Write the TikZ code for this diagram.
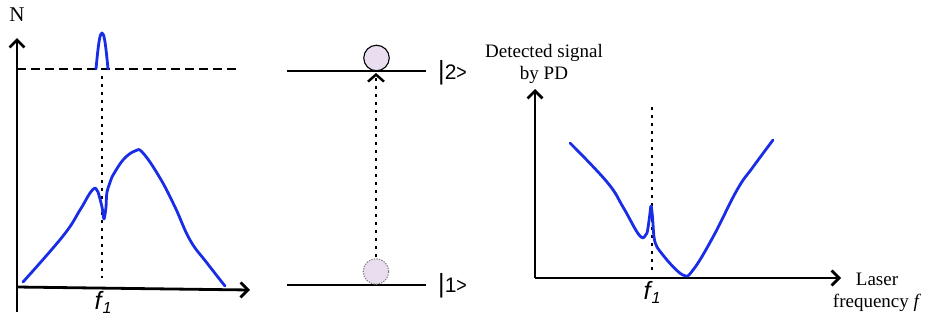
\documentclass[tikz,border=0pt]{standalone}
\usepackage{fontspec}
\setmainfont{Liberation Serif}
\newfontfamily\arialf{Liberation Sans}
\usetikzlibrary{arrows.meta}
\definecolor{curveblue}{RGB}{25,45,230}
\definecolor{lav}{RGB}{232,222,240}
\begin{document}
\begin{tikzpicture}[x=1pt,y=-1pt,
  axisline/.style={line width=2.8pt,-{Straight Barb[length=7.5pt,width=15pt]}},
  bluecurve/.style={curveblue,line width=2.8pt,line cap=round,line join=round},
  dotline/.style={line width=2.8pt,dash pattern=on 2.8pt off 5.2pt},
  level/.style={line width=2.5pt},
  serifl/.style={font=\fontsize{19}{22}\selectfont,align=center,inner sep=0pt},
  sansl/.style={font=\arialf\fontsize{21}{24}\selectfont,inner sep=0pt},
  flab/.style={font=\arialf\itshape\fontsize{25}{28}\selectfont,inner sep=0pt},
  atom/.style={circle,minimum size=25.5pt,inner sep=0pt,fill=lav}]
\useasboundingbox (0,0) rectangle (936,322);

% ---------- left panel ----------
\coordinate (ly0) at (17,312);
\coordinate (lyt) at (17,38);
\coordinate (lx0) at (17,287);
\coordinate (lxt) at (250,290);
\draw[axisline] (ly0) -- (lyt);
\draw[axisline] (lx0) -- (lxt);
\node[serifl,font=\fontsize{21}{24}\selectfont] (N) at (17,15) {N};
\coordinate (dl) at (17,69);
\coordinate (dr) at (240,69);
\draw[line width=2.6pt,dash pattern=on 9pt off 5pt] (dl) -- (dr);
\coordinate (ldt) at (102,76);
\coordinate (ldb) at (102,278);
\draw[dotline] (ldt) -- (ldb);
\draw[bluecurve] (96,69) .. controls (98.5,42) and (100,33) .. (102,33)
  .. controls (104,33) and (105.5,42) .. (108,69);
\draw[bluecurve] plot[smooth,tension=0.7] coordinates {
  (23,282) (63,236) (80,210) (90,193) (95,188)}
  plot[smooth,tension=0.5] coordinates {(95,188) (98,192) (102,207) (104,219)
  (106,207) (107,192) (112,177)}
  plot[smooth,tension=0.7] coordinates {(112,177) (123,160) (135,151) (143,153) (160,178)
  (175,207) (190,240) (207,263) (225,286)};
\node[flab] (f1l) at (103,302) {f\kern1pt\raisebox{-4pt}{\fontsize{16}{18}\selectfont 1}};

% ---------- middle panel ----------
\coordinate (u2l) at (287,71);
\coordinate (u2r) at (426,71);
\coordinate (u1l) at (287,285);
\coordinate (u1r) at (426,285);
\draw[level] (u2l) -- (u2r);
\draw[level] (u1l) -- (u1r);
\node[atom,draw=black,line width=1.1pt] (up) at (376.5,58) {};
\node[atom,draw=gray,line width=1.1pt,dash pattern=on 1.3pt off 1.3pt] (lo) at (376,271.5) {};
\coordinate (arrtip) at (376,73);
\draw[dotline,-{Straight Barb[length=7pt,width=16pt,line width=2.4pt]}] (lo.north) ++(0,-1) -- (arrtip);
\node[sansl,anchor=west] (k2) at (438,73) {\scalebox{1.2}[1.25]{|}2\scalebox{0.85}[1]{>}};
\node[sansl,anchor=west] (k1) at (438,286) {\scalebox{1.2}[1.25]{|}1\scalebox{0.85}[1]{>}};

% ---------- right panel ----------
\coordinate (ry0) at (535,278);
\coordinate (ryt) at (535,89);
\coordinate (rxt) at (841,278);
\draw[axisline] (ry0) -- (ryt);
\draw[axisline] (ry0) -- (rxt);
\node[serifl] (ylab) at (544,64) {Detected signal\\by PD};
\node[serifl] (xlab) at (877,292) {Laser\\frequency \textit{f}};
\coordinate (rdt) at (652,107);
\coordinate (rdb) at (652,270);
\draw[dotline] (rdt) -- (rdb);
\draw[bluecurve] plot[smooth,tension=0.7] coordinates {
  (570,143) (607,182) (623,207) (637,232) (643,238)}
  plot[smooth,tension=0.5] coordinates {(643,238) (647,233) (649.5,217)
  (651,206) (652.5,217) (654,237) (657,247) (667,260)}
  plot[smooth,tension=0.7] coordinates {(667,260) (683,275) (693,270)
  (713,237) (737,190) (753,167) (773,140)};
\node[flab] (f1r) at (652,292) {f\kern1pt\raisebox{-4pt}{\fontsize{16}{18}\selectfont 1}};
\end{tikzpicture}
\end{document}
